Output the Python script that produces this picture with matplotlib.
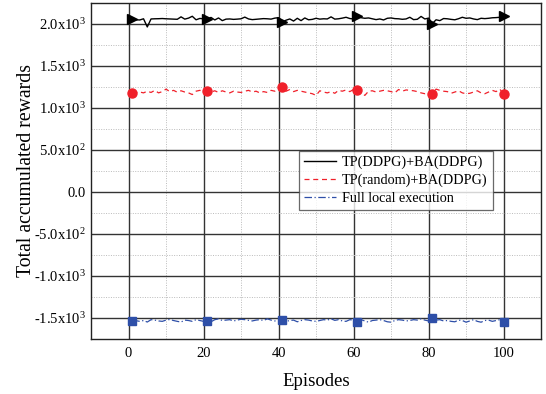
import numpy as np
import matplotlib.pyplot as plt
from matplotlib.ticker import MultipleLocator, FixedLocator

plt.rcParams['font.family'] = ['Liberation Serif', 'DejaVu Serif']
plt.rcParams['mathtext.fontset'] = 'custom'
plt.rcParams['mathtext.rm'] = 'Liberation Serif'
plt.rcParams['mathtext.it'] = 'Liberation Serif:italic'

episodes = list(range(1, 101))

# TP(DDPG)+BA(DDPG)
ddpg = [2060, 2050, 2048, 2062, 1965, 2060, 2062, 2063, 2065, 2062,
        2060, 2058, 2056, 2085, 2058, 2070, 2092, 2050, 2066, 2062,
        2060, 2078, 2048, 2072, 2040, 2058, 2060, 2055, 2058, 2062,
        2082, 2060, 2052, 2056, 2060, 2064, 2062, 2058, 2070, 2075,
        2025, 2045, 2060, 2035, 2068, 2040, 2072, 2050, 2055, 2068,
        2058, 2062, 2060, 2085, 2058, 2062, 2070, 2080, 2065, 2060,
        2090, 2075, 2068, 2072, 2062, 2052, 2060, 2048, 2068, 2072,
        2064, 2062, 2056, 2060, 2080, 2052, 2056, 2090, 2060, 2070,
        2005, 2050, 2040, 2065, 2062, 2055, 2050, 2063, 2080, 2068,
        2072, 2060, 2052, 2068, 2064, 2068, 2074, 2076, 2080, 2090]

# TP(random)+BA(DDPG)
rand = [1182, 1185, 1190, 1180, 1200, 1185, 1210, 1180, 1195, 1225,
        1195, 1210, 1188, 1205, 1190, 1180, 1160, 1200, 1210, 1198,
        1202, 1190, 1205, 1185, 1205, 1190, 1180, 1200, 1190, 1185,
        1200, 1210, 1190, 1200, 1180, 1195, 1185, 1210, 1200, 1225,
        1246, 1200, 1220, 1195, 1210, 1200, 1190, 1180, 1170, 1150,
        1205, 1190, 1180, 1195, 1175, 1210, 1200, 1215, 1195, 1220,
        1214, 1190, 1150, 1200, 1205, 1190, 1200, 1210, 1205, 1195,
        1180, 1220, 1200, 1215, 1210, 1205, 1195, 1180, 1170, 1175,
        1163, 1225, 1210, 1200, 1195, 1175, 1190, 1205, 1180, 1170,
        1175, 1190, 1205, 1180, 1170, 1190, 1210, 1195, 1225, 1163]

# Full local execution
local = [-1536, -1532, -1540, -1530, -1548, -1520, -1525, -1535, -1540, -1525,
         -1518, -1530, -1540, -1548, -1525, -1530, -1540, -1520, -1530, -1540,
         -1536, -1545, -1520, -1510, -1530, -1525, -1520, -1535, -1525, -1515,
         -1520, -1528, -1535, -1525, -1520, -1530, -1510, -1525, -1535, -1530,
         -1524, -1540, -1530, -1525, -1545, -1530, -1520, -1525, -1535, -1540,
         -1530, -1520, -1525, -1510, -1528, -1520, -1535, -1540, -1520, -1525,
         -1544, -1520, -1535, -1550, -1530, -1525, -1520, -1530, -1545, -1550,
         -1530, -1520, -1525, -1535, -1530, -1520, -1525, -1510, -1525, -1535,
         -1504, -1525, -1520, -1535, -1530, -1540, -1545, -1525, -1530, -1550,
         -1535, -1520, -1540, -1550, -1530, -1525, -1540, -1530, -1520, -1544]

yticks = [-1500, -1000, -500, 0, 500, 1000, 1500, 2000]
ylabels = [r'-1.5x10$^{3}$', r'-1.0x10$^{3}$', r'-5.0x10$^{2}$', '0.0',
           r'5.0x10$^{2}$', r'1.0x10$^{3}$', r'1.5x10$^{3}$', r'2.0x10$^{3}$']

marks = [0, 20, 40, 60, 80, 99]

fig = plt.figure(figsize=(5.46, 3.94), dpi=100)
ax = fig.add_axes([0.1667, 0.1396, 0.8243, 0.8528])

ax.plot(episodes, ddpg, color='black', lw=1.0, ls='-',
        marker='>', markersize=7.5, markevery=marks, label='TP(DDPG)+BA(DDPG)')
ax.plot(episodes, rand, color='#f0202a', lw=0.9, ls=(0, (4, 3)),
        marker='o', markersize=6.5, markevery=marks, label='TP(random)+BA(DDPG)')
ax.plot(episodes, local, color='#2e4fa8', lw=0.9, ls=(0, (6, 2, 1, 2)),
        marker='s', markersize=5.5, markevery=marks, label='Full local execution')

ax.set_xlim(-10, 110)
ax.set_ylim(-1750, 2250)
ax.xaxis.set_major_locator(MultipleLocator(20))
ax.xaxis.set_minor_locator(MultipleLocator(10))
ax.yaxis.set_major_locator(FixedLocator(yticks))
ax.yaxis.set_minor_locator(MultipleLocator(250))
ax.set_yticklabels(ylabels)

ax.grid(which='major', color='#333333', lw=1.0, ls='-')
ax.grid(which='minor', color='#bbbbbb', lw=0.7, ls=(0, (1, 1.5)))
ax.set_axisbelow(True)
ax.tick_params(which='both', direction='in', labelsize=10.5, length=0)
ax.tick_params(axis='x', pad=6)
for s in ax.spines.values():
    s.set_linewidth(1.0)
    s.set_color('#222222')

ax.set_xlabel('Episodes', fontsize=13.5, labelpad=9)
ax.set_ylabel('Total accumulated rewards', fontsize=14.2, labelpad=-1)

leg = ax.legend(loc='upper left', bbox_to_anchor=(0.462, 0.5595), fontsize=10.2,
                frameon=True, fancybox=False, edgecolor='#444444',
                handlelength=2.3, borderpad=0.35, labelspacing=0.32,
                handletextpad=0.4, borderaxespad=0)
leg.get_frame().set_linewidth(0.9)
for h in leg.legend_handles:
    h.set_marker('')

fig.savefig('out.png', dpi=100)
